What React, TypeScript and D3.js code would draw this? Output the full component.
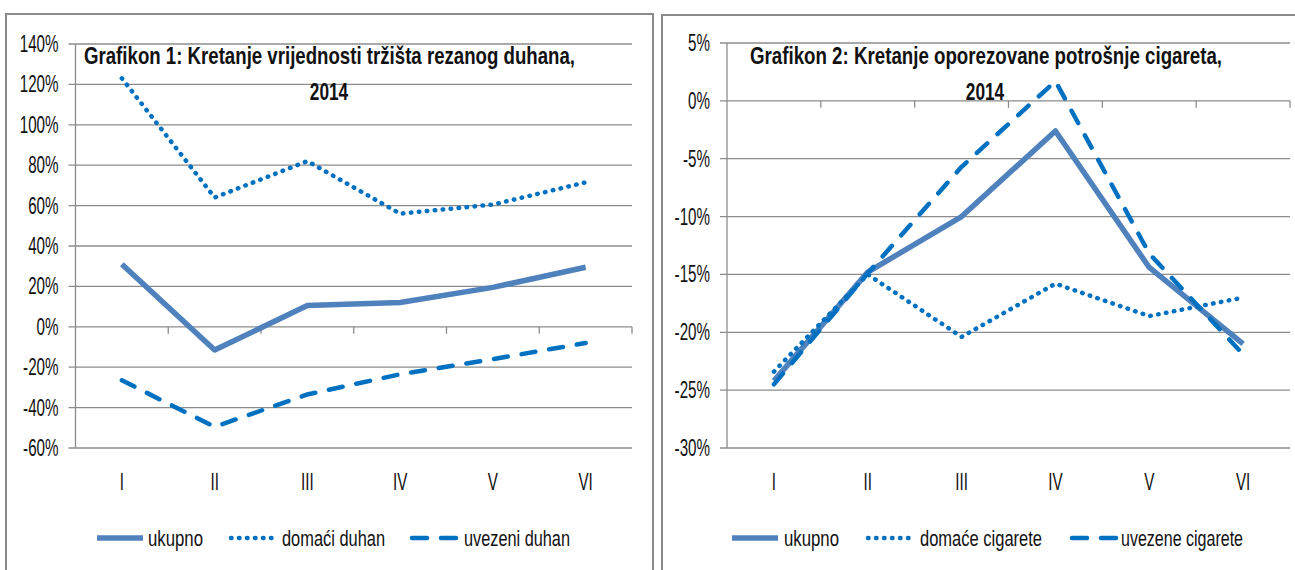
import { scaleLinear, scaleBand, line as d3Line } from "d3";

const categories = ["I", "II", "III", "IV", "V", "VI"];

// Grafikon 1 (%)
const ukupnoDuhan = [31, -11.5, 10.5, 12, 19.5, 29.5];
const domaciDuhan = [123, 64, 82, 56, 60.5, 71.5];
const uvezeniDuhan = [-26.5, -49.5, -33.5, -23.5, -16, -8];
const ticks1 = [140, 120, 100, 80, 60, 40, 20, 0, -20, -40, -60];

// Grafikon 2 (%)
const ukupnoCig = [-24.2, -14.8, -10, -2.6, -14.4, -21];
const domaceCig = [-23.4, -15, -20.4, -15.8, -18.6, -17];
const uvezeneCig = [-24.5, -14.9, -5.7, 1.7, -13.2, -21.9];
const ticks2 = [5, 0, -5, -10, -15, -20, -25, -30];

const SOLID = "#4f81bd";
const BLUE = "#0070c0";
const GRID = "#8c8c8c";
const FONT = "'Liberation Sans', Arial, sans-serif";

const styles: Record<string, { stroke: string; width: number; dash?: string }> = {
  solid: { stroke: SOLID, width: 5.5 },
  dot: { stroke: BLUE, width: 4.5, dash: "0.5 7.5" },
  dash: { stroke: BLUE, width: 4.5, dash: "14 14" },
};

// condensed look: squeeze horizontally, optionally force the on-screen width
const Label = ({ x, y, text, size = 23, anchor = "start", bold = false, sx = 0.66, len }: any) => (
  <text
    transform={`translate(${x},${y}) scale(${sx},1)`}
    textAnchor={anchor}
    fontFamily={FONT}
    fontSize={size}
    fontWeight={bold ? "bold" : "normal"}
    fill="#111"
    textLength={len ? len / sx : undefined}
    lengthAdjust={len ? "spacingAndGlyphs" : undefined}
  >
    {text}
  </text>
);

interface ChartProps {
  frame: [number, number, number];
  x0: number;
  x1: number;
  y0: number;
  y1: number;
  domain: [number, number];
  ticks: number[];
  series: { values: number[]; kind: string; name: string }[];
  title: { text: string; x: number; len: number; yearX: number };
  legend: { lineX: number; textX: number; len: number }[];
}

const Chart = ({ frame, x0, x1, y0, y1, domain, ticks, series, title, legend }: ChartProps) => {
  const x = scaleBand().domain(categories).range([x0, x1]);
  const y = scaleLinear().domain(domain).range([y1, y0]);
  const cx = (c: string) => (x(c) as number) + x.bandwidth() / 2;
  const path = d3Line<number>()
    .x((_, i) => cx(categories[i]))
    .y((d) => y(d));
  const zero = y(0);

  return (
    <g>
      <rect x={frame[0]} y={frame[1]} width={frame[2]} height={620} fill="white" stroke="#8a8a8a" strokeWidth={2} />
      {ticks.map((t) => (
        <g key={t}>
          <line x1={x0 - 7} x2={x1} y1={y(t)} y2={y(t)} stroke={GRID} strokeWidth={1.3} />
          <Label x={x0 - 17} y={y(t) + 8} text={`${t}%`} anchor="end" />
        </g>
      ))}
      <line x1={x0} x2={x0} y1={y0} y2={y1} stroke={GRID} strokeWidth={1.3} />
      {categories.map((c) => (
        <g key={c}>
          <line
            x1={(x(c) as number) + x.bandwidth()}
            x2={(x(c) as number) + x.bandwidth()}
            y1={zero}
            y2={zero + 7}
            stroke={GRID}
            strokeWidth={1.3}
          />
          <Label x={cx(c)} y={490} text={c} anchor="middle" />
        </g>
      ))}
      <Label x={title.x} y={64} text={title.text} bold size={23} sx={0.7} len={title.len} />
      <Label x={title.yearX} y={100} text="2014" bold size={24} anchor="middle" sx={0.72} />
      {series.map((s) => {
        const st = styles[s.kind];
        return (
          <path
            key={s.name}
            d={path(s.values) as string}
            fill="none"
            stroke={st.stroke}
            strokeWidth={st.width}
            strokeDasharray={st.dash}
            strokeLinecap={s.kind === "solid" ? "butt" : "round"}
            strokeLinejoin="round"
          />
        );
      })}
      {series.map((s, i) => {
        const st = styles[s.kind];
        const lg = legend[i];
        return (
          <g key={"lg" + s.name}>
            <line
              x1={lg.lineX + (s.kind === "solid" ? 0 : 2)}
              x2={lg.lineX + 46}
              y1={538}
              y2={538}
              stroke={st.stroke}
              strokeWidth={st.width}
              strokeDasharray={s.kind === "dash" ? "15 14" : st.dash}
              strokeLinecap={s.kind === "solid" ? "butt" : "round"}
            />
            <Label x={lg.textX} y={546} text={s.name} size={22} sx={0.7} len={lg.len} />
          </g>
        );
      })}
    </g>
  );
};

export default function App() {
  return (
    <svg width={1295} height={570} style={{ position: "absolute", left: 0, top: 0, background: "white" }}>
      <Chart
        frame={[6, 14, 647]}
        x0={75.5}
        x1={632}
        y0={44}
        y1={448}
        domain={[-60, 140]}
        ticks={ticks1}
        series={[
          { values: ukupnoDuhan, kind: "solid", name: "ukupno" },
          { values: domaciDuhan, kind: "dot", name: "domaći duhan" },
          { values: uvezeniDuhan, kind: "dash", name: "uvezeni duhan" },
        ]}
        title={{ text: "Grafikon 1: Kretanje vrijednosti tržišta rezanog duhana,", x: 84, len: 491, yearX: 329 }}
        legend={[
          { lineX: 97, textX: 148, len: 55 },
          { lineX: 229, textX: 282, len: 103 },
          { lineX: 410, textX: 464, len: 106 },
        ]}
      />
      <Chart
        frame={[662, 15, 700]}
        x0={727}
        x1={1290}
        y0={43}
        y1={448}
        domain={[-30, 5]}
        ticks={ticks2}
        series={[
          { values: ukupnoCig, kind: "solid", name: "ukupno" },
          { values: domaceCig, kind: "dot", name: "domaće cigarete" },
          { values: uvezeneCig, kind: "dash", name: "uvezene cigarete" },
        ]}
        title={{ text: "Grafikon 2: Kretanje oporezovane potrošnje cigareta,", x: 750, len: 472, yearX: 985 }}
        legend={[
          { lineX: 732, textX: 784, len: 55 },
          { lineX: 866, textX: 920, len: 122 },
          { lineX: 1070, textX: 1121, len: 122 },
        ]}
      />
    </svg>
  );
}
